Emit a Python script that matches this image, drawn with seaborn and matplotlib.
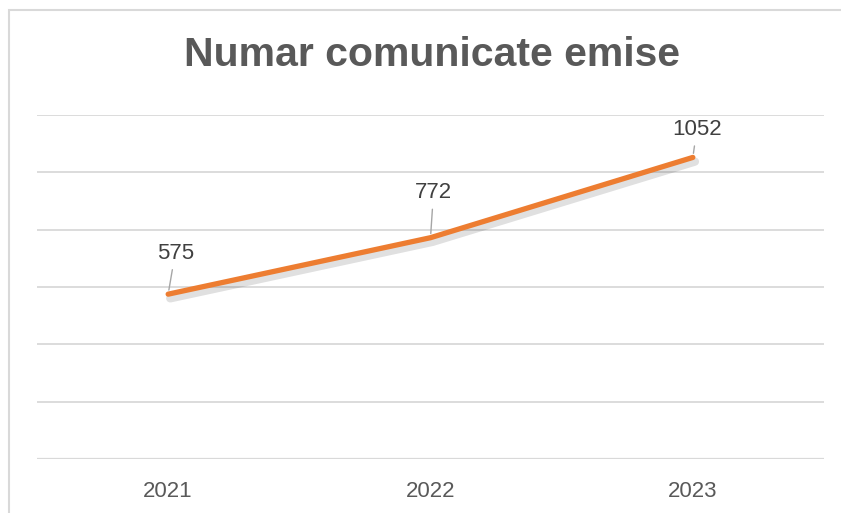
import numpy as np
import matplotlib
matplotlib.use('Agg')
import matplotlib.pyplot as plt
import matplotlib.patheffects as pe
from matplotlib.patches import Rectangle
import seaborn as sns

years = ['2021', '2022', '2023']
values = [575, 772, 1052]
# label offsets in pixels (dx, dy) relative to each point
label_offsets = [(7, 41), (3, 45), (4, 28)]

sns.set_style('white')
plt.rcParams['font.family'] = ['Liberation Sans', 'DejaVu Sans']

dpi = 100
fig = plt.figure(figsize=(841 / dpi, 513 / dpi), dpi=dpi)
W, H = 841, 513
ax = fig.add_axes([37 / W, 1 - 459 / H, (824 - 37) / W, (459 - 115) / H])

sns.lineplot(x=years, y=values, ax=ax, color='#ED7D31', linewidth=3.8,
             solid_capstyle='round',
             path_effects=[pe.SimpleLineShadow(offset=(1.5, -3), shadow_color='#000000', alpha=0.12, linewidth=6),
                           pe.Normal()])

ax.set_xlim(-0.5, 2.5)
ax.set_ylim(0, 1200)
ax.set_yticks(np.arange(0, 1201, 200))
ax.set_yticklabels([])
ax.tick_params(axis='y', length=0)
ax.tick_params(axis='x', length=0, labelsize=16, labelcolor='#595959', pad=16)
ax.grid(axis='y', color='#D9D9D9', linewidth=1.3)
ax.set_axisbelow(True)
for s in ax.spines.values():
    s.set_visible(False)
ax.axhline(0, color='#D9D9D9', linewidth=1.6, zorder=1)
ax.set_xlabel('')
ax.set_ylabel('')

for i, (v, (dx, dy)) in enumerate(zip(values, label_offsets)):
    ax.annotate(str(v), xy=(i, v), xytext=(dx * 0.72, dy * 0.72), textcoords='offset points',
                ha='center', va='center', fontsize=16, color='#404040',
                arrowprops=dict(arrowstyle='-', color='#A6A6A6', lw=1.0, shrinkA=2, shrinkB=3))

fig.text(431.5 / W, 1 - 55 / H, 'Numar comunicate emise', ha='center', va='center',
         fontsize=29.5, fontweight='bold', color='#595959')

fig.patches.append(Rectangle((8.5 / W, -0.1), 1.2, 1.1 - 9.5 / H, transform=fig.transFigure,
                             fill=False, edgecolor='#D9D9D9', linewidth=1.5))

fig.savefig('out.png', dpi=dpi)
